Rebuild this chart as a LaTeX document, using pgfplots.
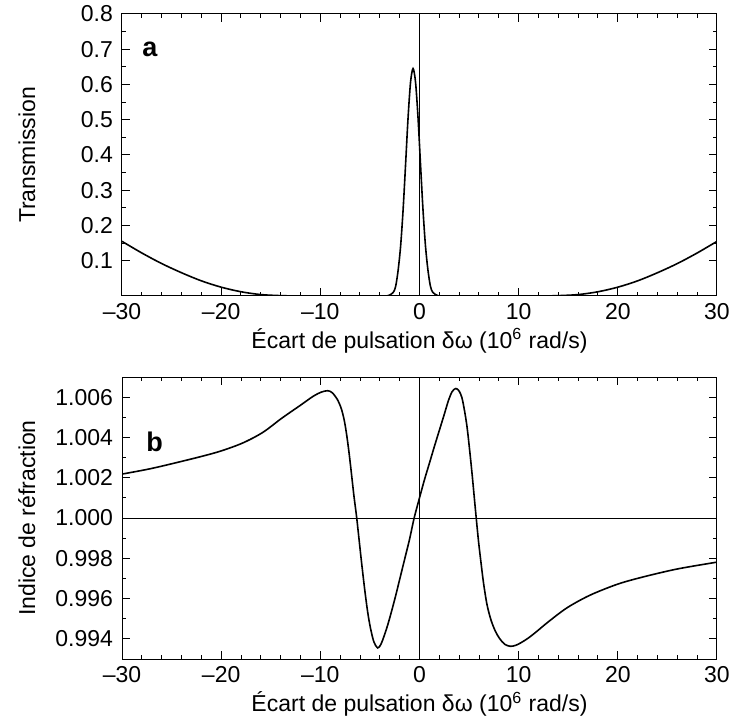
\documentclass[border=0pt]{standalone}
\usepackage{fontspec}
\setmainfont{Liberation Sans}
\usepackage{pgfplots}
\pgfplotsset{compat=1.18}

\newcommand{\tf}{\fontsize{11.5pt}{13pt}\selectfont}
\newcommand{\labfont}{\fontsize{11.5pt}{14pt}\selectfont}

\pgfplotsset{
  panel/.style={
    scale only axis, width=297.5pt, height=141pt,
    xmin=-30, xmax=30,
    xtick={-30,-20,-10,0,10,20,30},
    xticklabels={{\tf –30},{\tf –20},{\tf –10},{\tf 0},{\tf 10},{\tf 20},{\tf 30}},
    minor x tick num=4,
    tick align=inside,
    major tick length=4pt, minor tick length=2pt,
    axis line style={line width=0.5pt},
    tick style={line width=0.5pt, black},
    yticklabel style={xshift=-1pt},
    xlabel={Écart de pulsation δω (10\textsuperscript{6} rad/s)},
    xlabel style={font=\labfont, at={(axis description cs:0.5,-0.16)}, anchor=center},
    ylabel style={font=\labfont, at={(axis description cs:-0.16,0.5)}, rotate=0, anchor=center},
  },
  curve/.style={black, line width=0.8pt, smooth},
  ref/.style={black, line width=0.4pt},
}

\begin{document}
\begin{tikzpicture}
  \path[use as bounding box] (-61pt,7pt) rectangle (304.5pt,-356.5pt);
  % a: transmission
  \begin{axis}[panel, at={(0,0)}, anchor=north west,
      ymin=0, ymax=0.8,
      ytick={0.1,0.2,0.3,0.4,0.5,0.6,0.7,0.8},
      yticklabels={{\tf 0.1},{\tf 0.2},{\tf 0.3},{\tf 0.4},{\tf 0.5},{\tf 0.6},{\tf 0.7},{\tf 0.8}},
      minor y tick num=1,
      ylabel={Transmission}]
    \addplot[ref] coordinates {(0,0) (0,0.8)};
    \addplot[curve] coordinates {
      (-30,0.155) (-28,0.122) (-26,0.092) (-24,0.066) (-22,0.043) (-20,0.025)
      (-18,0.012) (-16,0.004) (-14,0.001) (-12,0) (-8,0) (-5,0)
      (-3.65,0) (-3.15,0.001) (-2.65,0.010) (-2.4,0.028) (-2.15,0.074)
      (-1.9,0.143) (-1.65,0.246) (-1.4,0.375) (-1.15,0.507) (-0.9,0.607)
      (-0.65,0.645) (-0.4,0.607) (-0.15,0.507) (0.1,0.375) (0.35,0.246)
      (0.6,0.143) (0.85,0.074) (1.1,0.028) (1.35,0.010) (1.85,0.001)
      (2.35,0) (5,0) (8,0) (12,0) (14,0.001) (16,0.004) (18,0.012)
      (20,0.025) (22,0.043) (24,0.066) (26,0.092) (28,0.122) (30,0.155)
    };
    \node[font=\fontsize{13.5pt}{14pt}\bfseries] at (axis cs:-27.2,0.70) {a};
  \end{axis}

  % b: refractive index
  \begin{axis}[panel, at={(0,-181.5pt)}, anchor=north west,
      ymin=0.993, ymax=1.007,
      ytick={0.994,0.996,0.998,1.000,1.002,1.004,1.006},
      yticklabels={{\tf 0.994},{\tf 0.996},{\tf 0.998},{\tf 1.000},{\tf 1.002},{\tf 1.004},{\tf 1.006}},
      minor y tick num=1,
      ylabel={Indice de réfraction}]
    \addplot[ref] coordinates {(0,0.993) (0,1.007)};
    \addplot[ref] coordinates {(-30,1) (30,1)};
    \addplot[curve] coordinates {
      (-30,1.00218) (-27.5,1.00241) (-25.6,1.00262) (-22.2,1.00303) (-20,1.00333)
      (-17.8,1.00373) (-15.8,1.00425) (-13.9,1.00495) (-12,1.00560) (-10.7,1.00605)
      (-9.9,1.00625) (-9.25,1.00632) (-8.8,1.00622) (-8.3,1.00590) (-7.9,1.00545)
      (-7.6,1.00488) (-7.35,1.00415) (-7.1,1.00322) (-6.85,1.00215) (-6.6,1.00105)
      (-6.33,1.0000) (-5.9,0.99805) (-5.55,0.99655) (-5.24,0.99538) (-4.95,0.99455)
      (-4.6,0.99385) (-4.22,0.99355) (-3.9,0.99372) (-3.6,0.99410) (-3.2,0.99470)
      (-2.8,0.99540) (-2.4,0.99615) (-2.0,0.99695) (-1.5,0.99795) (-1.0,0.99895)
      (-0.54,1.0000) (0,1.00100) (0.5,1.00190) (1.0,1.00272) (1.5,1.00355)
      (2.0,1.00435) (2.5,1.00515) (2.93,1.00585) (3.3,1.00628) (3.67,1.00643)
      (4.0,1.00630) (4.28,1.00597) (4.55,1.00530) (4.8,1.00450) (5.05,1.00340)
      (5.3,1.00220) (5.5,1.00115) (5.72,1.0000) (5.95,0.99885) (6.15,0.99800)
      (6.45,0.99680) (6.8,0.99572) (7.2,0.99495) (7.65,0.99438) (8.1,0.99400)
      (8.6,0.99373) (9.16,0.99363) (9.7,0.99368) (10.2,0.99380) (11,0.99405)
      (11.85,0.99438) (13,0.99485) (14.9,0.99555) (17.2,0.99617) (20,0.99672)
      (22.6,0.99708) (26,0.99747) (30,0.99781)
    };
    \node[font=\fontsize{13.5pt}{14pt}\bfseries] at (axis cs:-26.7,1.0038) {b};
  \end{axis}
\end{tikzpicture}
\end{document}
